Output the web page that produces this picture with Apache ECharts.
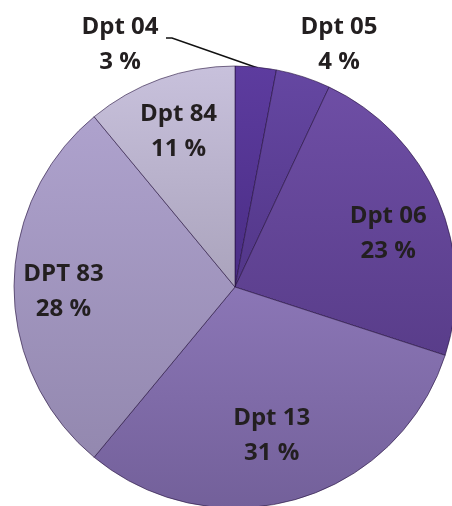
<!DOCTYPE html>
<html>
<head>
<meta charset="utf-8">
<script src="https://cdn.jsdelivr.net/npm/echarts@6/dist/echarts.min.js"></script>
<style>
html,body{margin:0;padding:0;background:#fff;}
#main{width:452px;height:506px;}
</style>
</head>
<body>
<div id="main"></div>
<script>
// categories + values (percent), clockwise from 12 o'clock
var depts = ['Dpt 04', 'Dpt 05', 'Dpt 06', 'Dpt 13', 'DPT 83', 'Dpt 84'];
var shares = [3, 4, 23, 31, 28, 11];
var sliceColors = ['#56349b', '#5f3f9e', '#6847a1', '#8670b3', '#ab9ecb', '#c6bedb'];

// label nudges, inside labels only (dx, dy)
var nudge = [null, null, [49, -8], [5, 40], [-58, 5], [-18, -49]];

// mix a hex colour toward black (k > 0) or white (k < 0)
function mix(hex, k) {
	var n = parseInt(hex.slice(1), 16);
	var rgb = [(n >> 16) & 255, (n >> 8) & 255, n & 255];
	var t = k > 0 ? 0 : 255, a = Math.abs(k);
	return 'rgb(' + rgb.map(function (v) { return Math.round(v + (t - v) * a); }).join(',') + ')';
}

function shade(c) {
	// lighter top, darker bottom, like the bevelled original
	return new echarts.graphic.LinearGradient(0, 0, 0, 1, [
		{offset: 0, color: mix(c, -0.04)},
		{offset: 1, color: mix(c, 0.14)}
	]);
}

var chartInstance = echarts.init(document.getElementById('main'));

var pieData = [];
for (var i = 0; i < depts.length; i++) {
	var item = {
		name: depts[i],
		value: shares[i],
		itemStyle: {color: shade(sliceColors[i])}
	};
	if (i < 2) {
		item.label = {position: 'outside'};
		item.labelLine = {show: i === 0};
	}
	pieData.push(item);
}

var option = {
	animation: false,
	series: [{
		type: 'pie',
		center: [235, 287],
		radius: 221,
		startAngle: 90,
		clockwise: true,
		avoidLabelOverlap: false,
		itemStyle: {
			borderColor: 'rgba(35,15,60,0.6)',
			borderWidth: 1
		},
		label: {
			show: true,
			position: 'inside',
			formatter: '{b}\n{c} %',
			color: '#231f20',
			fontFamily: 'Open Sans',
			fontWeight: 'bold',
			fontSize: 24,
			lineHeight: 35
		},
		labelLine: {
			show: false,
			length: 10,
			length2: 10,
			lineStyle: {color: '#111', width: 1.5}
		},
		emphasis: {disabled: true},
		labelLayout: function (params) {
			var idx = params.dataIndex;
			if (idx === 0) {
				var lx = 120, ly = 45;
				var start = params.labelLinePoints ? params.labelLinePoints[0] : [256, 67];
				return {
					x: lx, y: ly, align: 'center', verticalAlign: 'middle',
					labelLinePoints: [[start[0] + 2, start[1] + 1], [lx + 52, ly - 7], [lx + 46, ly - 7]]
				};
			}
			if (idx === 1) {
				return {x: 339, y: 45, align: 'center', verticalAlign: 'middle'};
			}
			return {dx: nudge[idx][0], dy: nudge[idx][1]};
		},
		data: pieData
	}]
};

chartInstance.setOption(option);
</script>
</body>
</html>
